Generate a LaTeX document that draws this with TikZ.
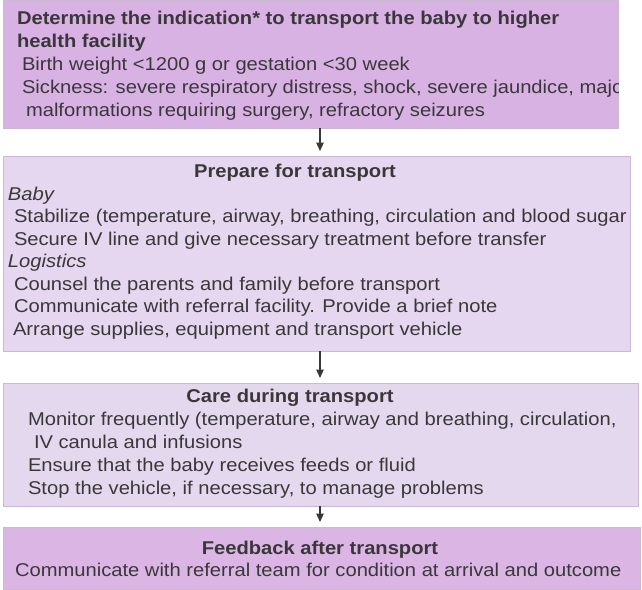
\documentclass[tikz,border=0pt]{standalone}
\usepackage{fontspec}
\setmainfont{Liberation Sans}[FakeStretch=1.09]
\usetikzlibrary{arrows.meta}
\definecolor{txt}{HTML}{3A373A}
\definecolor{fillA}{HTML}{D9B2E4}
\definecolor{fillB}{HTML}{E5D7EF}
\definecolor{fillC}{HTML}{E4D8EF}
\definecolor{fillD}{HTML}{DBB6E5}
\definecolor{edge}{HTML}{CBB9D4}
\begin{document}
\begin{tikzpicture}[x=1pt,y=-1pt,
  every node/.style={inner sep=0pt,outer sep=0pt},
  box/.style={draw=edge,line width=0.8pt,anchor=north west},
  ln/.style={anchor=base west,text=txt,font=\fontsize{18.5}{20}\selectfont},
  hd/.style={anchor=base west,text=txt,font=\fontsize{18.5}{20}\selectfont\bfseries},
  ttl/.style={anchor=base,text=txt,font=\fontsize{18.5}{20}\selectfont\bfseries},
  it/.style={anchor=base west,text=txt,font=\fontsize{18.5}{20}\selectfont\itshape},
  flow/.style={draw=txt,line width=1.2pt,-{Triangle[width=7.5pt,length=8.5pt]},shorten >=5pt}]
\useasboundingbox (0,0) rectangle (642,589);
% boxes
\node[box,fill=fillA,minimum width=615pt,minimum height=128pt] (b1) at (3,0) {};
\node[box,fill=fillB,minimum width=627pt,minimum height=195pt] (b2) at (3,156) {};
\node[box,fill=fillC,minimum width=635pt,minimum height=123pt] (b3) at (3,383) {};
\node[box,fill=fillD,minimum width=637pt,minimum height=62pt] (b4) at (3,527) {};
% box 1 text
\begin{scope}
\clip (b1.north west) rectangle (b1.south east);
\node[hd] (t11) at (17,24) {Determine the indication* to transport the baby to higher};
\node[hd] (t12) at (17,47) {health facility};
\node[ln] (t13) at (22,70) {Birth weight <1200 g or gestation <30 week};
\node[ln] (t14) at (22,93) {Sickness: severe respiratory distress, shock, severe jaundice, major};
\node[ln] (t15) at (26,116) {malformations requiring surgery, refractory seizures};
\end{scope}
% box 2 text
\node[ttl] (t20) at (295,177) {Prepare for transport};
\node[it] (t21) at (8,200) {Baby};
\node[ln] (t22) at (14,222) {Stabilize (temperature, airway, breathing, circulation and blood sugar};
\node[ln] (t23) at (14,245) {Secure IV line and give necessary treatment before transfer};
\node[it] (t24) at (8,267) {Logistics};
\node[ln] (t25) at (14,290) {Counsel the parents and family before transport};
\node[ln] (t26) at (14,312) {Communicate with referral facility. Provide a brief note};
\node[ln] (t27) at (13,335) {Arrange supplies, equipment and transport vehicle};
% box 3 text
\node[ttl] (t30) at (290,402) {Care during transport};
\node[ln] (t31) at (28,425) {Monitor frequently (temperature, airway and breathing, circulation,};
\node[ln] (t32) at (34,448) {IV canula and infusions};
\node[ln] (t33) at (28,471) {Ensure that the baby receives feeds or fluid};
\node[ln] (t34) at (28,494) {Stop the vehicle, if necessary, to manage problems};
% box 4 text
\node[ttl] (t40) at (320,554) {Feedback after transport};
\node[ln] (t41) at (15,576) {Communicate with referral team for condition at arrival and outcome};
% arrows
\coordinate (ax) at (320,0);
\draw[flow] (b1.south -| ax) -- (b2.north -| ax);
\draw[flow] (b2.south -| ax) -- (b3.north -| ax);
\draw[flow] (b3.south -| ax) -- (b4.north -| ax);
\end{tikzpicture}
\end{document}
